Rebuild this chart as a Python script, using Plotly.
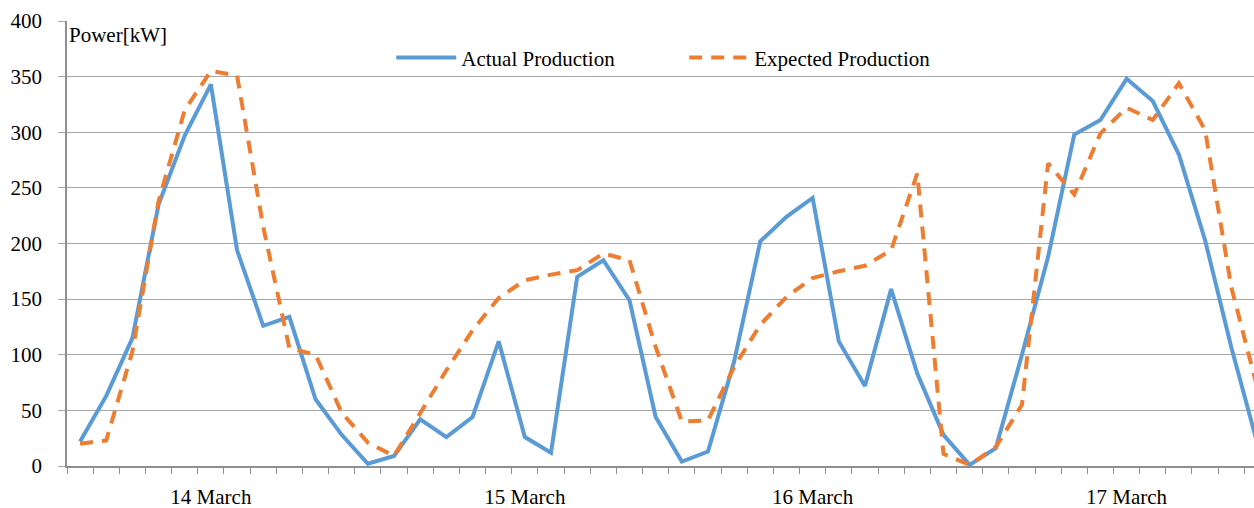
import plotly.graph_objects as go

# ---- data ----
categories = list(range(46))
actual = [22, 63, 115, 235, 297, 343, 194, 126, 134, 60, 28, 2,
          9, 42, 26, 44, 112, 26, 12, 170, 185, 149, 44, 4,
          13, 94, 202, 224, 241, 112, 72, 159, 83, 28, 1, 16,
          100, 188, 298, 311, 348, 328, 280, 203, 107, 20]
expected = [20, 23, 103, 238, 320, 355, 351, 215, 106, 100, 48, 21,
            9, 48, 86, 122, 151, 167, 172, 176, 191, 185, 107, 40,
            41, 89, 127, 152, 169, 175, 180, 194, 263, 11, 1, 17,
            55, 272, 244, 299, 322, 311, 344, 302, 161, 70]
day_positions = [5, 17, 28, 40]
day_labels = ["14 March", "15 March", "16 March", "17 March"]
y_ticks = [0, 50, 100, 150, 200, 250, 300, 350, 400]

FONT = "Liberation Serif"
GRID = "#a6a6a6"
AXIS = "#8f8f8f"

fig = go.Figure()
fig.add_trace(go.Scatter(x=categories, y=actual, mode="lines",
                         name="Actual Production",
                         line=dict(color="#5b9bd5", width=4)))
fig.add_trace(go.Scatter(x=categories, y=expected, mode="lines",
                         name="Expected Production",
                         line=dict(color="#ed7d31", width=4, dash="13px,9px")))

fig.update_layout(
    width=1254, height=508, autosize=False,
    margin=dict(l=67, r=0, t=21, b=42, autoexpand=False),
    plot_bgcolor="white", paper_bgcolor="white",
    font=dict(family=FONT, size=21, color="#000000"),
    showlegend=True,
    legend=dict(orientation="h", x=0.52, xanchor="center", y=0.917,
                yanchor="middle", font=dict(family=FONT, size=21),
                itemwidth=60, entrywidth=218, entrywidthmode="pixels",
                bgcolor="rgba(0,0,0,0)"),
    xaxis=dict(range=[-0.5, 44.87], showgrid=False, zeroline=False,
               automargin=False,
               showline=True, linecolor=AXIS, linewidth=2,
               tickvals=day_positions, ticktext=day_labels, ticks="",
               ticklabelstandoff=11,
               tickfont=dict(family=FONT, size=21),
               minor=dict(tickvals=[i - 0.5 for i in range(47)],
                          ticks="outside", ticklen=6, tickcolor=AXIS,
                          tickwidth=1.3, showgrid=False)),
    yaxis=dict(range=[0, 400], tickvals=y_ticks, showgrid=True,
               automargin=False,
               gridcolor=GRID, gridwidth=1.3, zeroline=False,
               showline=True, linecolor=AXIS, linewidth=1.5,
               ticks="outside", ticklen=7, tickcolor=GRID, tickwidth=1.3,
               ticklabelstandoff=12,
               tickfont=dict(family=FONT, size=21)),
    annotations=[dict(text="Power[kW]", xref="paper", yref="paper",
                      x=0, y=0.969, xanchor="left", yanchor="middle",
                      showarrow=False, font=dict(family=FONT, size=21))],
)

fig.write_html("out.html")
